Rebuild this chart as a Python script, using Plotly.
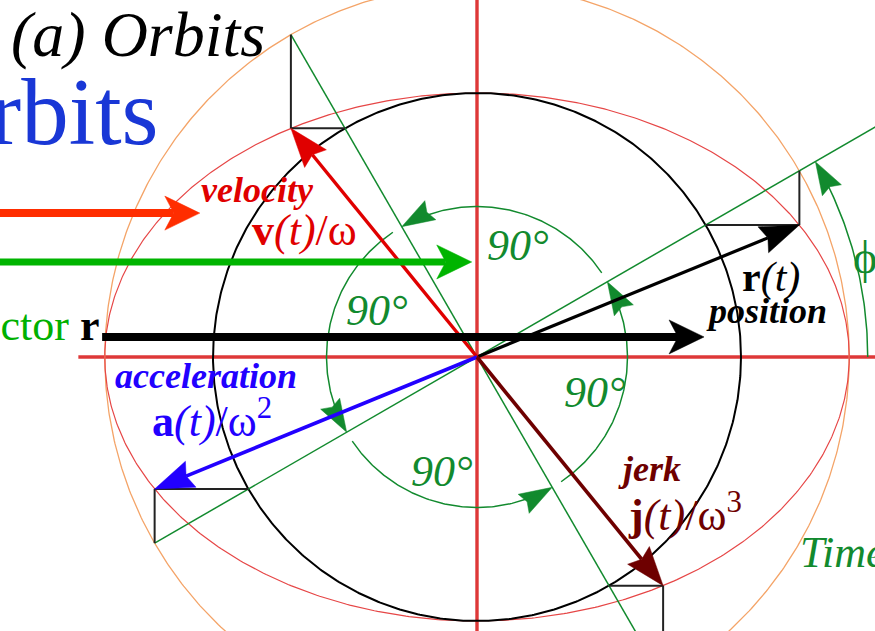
import numpy as np
import plotly.graph_objects as go

# --- orbit geometry (inner reference circle has unit radius) ---
outer_radius = 1.41            # a : orange reference circle
inner_radius = 1.00            # b : black reference circle
vector_angles = [30, 120, 210, 300]      # eccentric angle of r, v, a, j (deg)
vector_colors = ["#000000", "#e00000", "#2200ff", "#6e0000"]
vector_widths = [3.2, 3.4, 3.6, 3.6]
turn_arc_radius = 0.57         # radius of the 90° rotation arcs
turn_arc_gap = 4               # degrees left open after each arc's arrowhead
phase_angle = 30               # ϕ
phase_arc_radius = 1.48
ray_extent = [1.41, 2.0]       # green rays: back length, forward length

# banner arrows running in from the left edge
banner_y = [0.545, 0.360, 0.076]
banner_x0 = [-1.95, -1.95, -1.42]
banner_x1 = [-1.05, -0.02, 0.86]
banner_colors = ["#ff2d00", "#00b400", "#000000"]
banner_widths = [8, 7, 8]

W, H = 875, 631
PX = 264.0                     # pixels per unit
CX, CY = 477, 357              # where the origin sits on the page
x_range = [-CX / PX, (W - CX) / PX]
y_range = [-(H - CY) / PX, CY / PX]

GREEN = "#128a2e"
fig = go.Figure()


def line(xs, ys, color, width):
    fig.add_trace(go.Scatter(x=list(xs), y=list(ys), mode="lines",
                             line=dict(color=color, width=width),
                             hoverinfo="skip", showlegend=False))


def head(tip, direction, color, length, half, notch):
    d = np.asarray(direction, float)
    ux, uy = d / np.linalg.norm(d)
    nx, ny = -uy, ux
    L, Hw, N = length / PX, half / PX, notch / PX
    tx, ty = tip
    xs = [tx, tx - L * ux + Hw * nx, tx - (L - N) * ux, tx - L * ux - Hw * nx, tx]
    ys = [ty, ty - L * uy + Hw * ny, ty - (L - N) * uy, ty - L * uy - Hw * ny, ty]
    fig.add_trace(go.Scatter(x=xs, y=ys, mode="lines", fill="toself",
                             fillcolor=color, line=dict(color=color, width=0.5),
                             hoverinfo="skip", showlegend=False))
    return tx - (L - N) * ux, ty - (L - N) * uy


def polar(r, deg):
    t = np.radians(deg)
    return r * np.cos(t), r * np.sin(t)


# coordinate axes
line([-1.51, x_range[1] + 0.1], [0, 0], "rgba(220,45,45,0.95)", 3.4)
line([0, 0], [y_range[0] - 0.1, y_range[1] + 0.1], "rgba(220,45,45,0.95)", 3.4)

# reference circles and the orbit ellipse
t = np.linspace(0, 2 * np.pi, 721)
line(outer_radius * np.cos(t), outer_radius * np.sin(t), "#f4a468", 1.3)
line(outer_radius * np.cos(t), inner_radius * np.sin(t), "#e64646", 1.2)
line(inner_radius * np.cos(t), inner_radius * np.sin(t), "#000000", 2)

# green rays through the centre at the eccentric angles
for ang in vector_angles[:2]:
    back, fwd = ray_extent
    if ang == 120:
        back, fwd = ray_extent[1], outer_radius
    x0, y0 = polar(-back, ang)
    x1, y1 = polar(fwd, ang)
    line([x0, x1], [y0, y1], GREEN, 1.5)

# ellipse construction: drop from outer circle, across from inner circle
for ang in vector_angles:
    ox, oy = polar(outer_radius, ang)
    ix, iy = polar(inner_radius, ang)
    line([ox, ox], [oy, iy], "#222222", 2)
    line([ix, ox], [iy, iy], "#222222", 2)

# 90° rotation arcs, each ending in an arrowhead on the next vector
for i, end in enumerate(vector_angles[1:] + [vector_angles[0] + 360]):
    start = vector_angles[i] + turn_arc_gap
    tip = polar(turn_arc_radius, end)
    tang = (-np.sin(np.radians(end)), np.cos(np.radians(end)))
    head(tip, tang, GREEN, 33, 11, 4)
    a = np.radians(np.linspace(start, end - 5, 120))
    line(turn_arc_radius * np.cos(a), turn_arc_radius * np.sin(a), GREEN, 1.5)

# phase arc ϕ from the x axis
tip = polar(phase_arc_radius, phase_angle)
tang = (-np.sin(np.radians(phase_angle)), np.cos(np.radians(phase_angle)))
head(tip, tang, GREEN, 33, 11, 4)
a = np.radians(np.linspace(0, phase_angle - 4, 60))
line(phase_arc_radius * np.cos(a), phase_arc_radius * np.sin(a), GREEN, 1.5)

# r, v, a, j vectors to the ellipse
for ang, col, wd in zip(vector_angles, vector_colors, vector_widths):
    ex, ey = outer_radius * np.cos(np.radians(ang)), inner_radius * np.sin(np.radians(ang))
    bx, by = head((ex, ey), (ex, ey), col, 39, 14, 5)
    line([0, bx], [0, by], col, wd)

# banner arrows
for y, x0, x1, col, wd in zip(banner_y, banner_x0, banner_x1, banner_colors, banner_widths):
    bx, by = head((x1, y), (1, 0), col, 35, 17, 9)
    line([x0, bx], [y, by], col, wd)

SERIF = "Liberation Serif"


def page(px, py):
    return px / W, 1 - py / H


labels = [
    ("<i>(a) Orbits</i>", 9, 34, 64, "#000000", "left"),
    ("Orbits", 161, 112, 95, "#1937d6", "right"),
    ("<span style='color:#00b000'>vector</span> <b>r</b>", 101, 325, 44, "#000000", "right"),
    ("<b><i>velocity</i></b>", 257, 190, 36, "#e00000", "center"),
    ("<b>v</b><i>(t)</i>/ω", 304, 230, 44, "#e00000", "center"),
    ("<b><i>acceleration</i></b>", 206, 376, 36, "#2200ff", "center"),
    ("<b>a</b><i>(t)</i>/ω<sup>2</sup>", 212, 418, 44, "#2200ff", "center"),
    ("<b>r</b><i>(t)</i>", 771, 277, 42, "#000000", "center"),
    ("<b><i>position</i></b>", 766, 311, 36, "#000000", "center"),
    ("<b><i>jerk</i></b>", 649, 469, 36, "#6e0000", "center"),
    ("<b>j</b><i>(t)</i>/ω<sup>3</sup>", 685, 512, 44, "#6e0000", "center"),
    ("<i>90°</i>", 518, 245, 44, GREEN, "center"),
    ("<i>90°</i>", 377, 310, 44, GREEN, "center"),
    ("<i>90°</i>", 442, 472, 44, GREEN, "center"),
    ("<i>90°</i>", 595, 392, 44, GREEN, "center"),
    ("<i>Time</i>", 798, 552, 44, GREEN, "left"),
    ("ϕ", 851, 258, 46, GREEN, "left"),
]
for text, px, py, size, col, anchor in labels:
    x, y = page(px, py)
    fig.add_annotation(x=x, y=y, xref="paper", yref="paper", text=text,
                       showarrow=False, xanchor=anchor, yanchor="middle",
                       font=dict(family=SERIF, size=size, color=col))

fig.update_layout(
    width=W, height=H, margin=dict(l=0, r=0, t=0, b=0),
    paper_bgcolor="white", plot_bgcolor="white",
    xaxis=dict(range=x_range, visible=False, fixedrange=True),
    yaxis=dict(range=y_range, visible=False, fixedrange=True),
    showlegend=False,
)
fig.write_html("out.html")
